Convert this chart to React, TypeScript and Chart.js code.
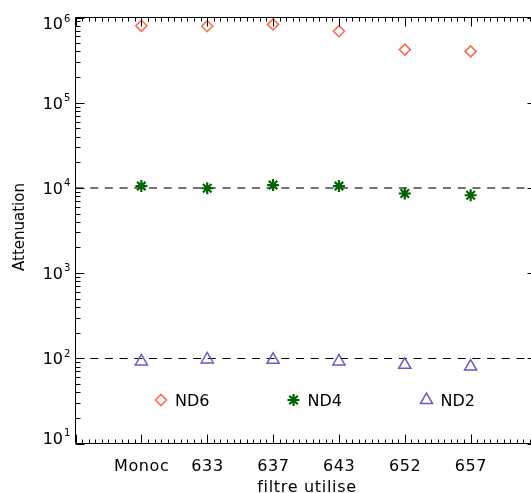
import React, { useEffect, useRef } from 'react';
import { Chart, registerables } from 'chart.js';
import { drawPoint } from 'chart.js/helpers';

Chart.register(...registerables);

// ---- data ----
const categories = ['Monoc', '633', '637', '643', '652', '657'];
const nd6 = [8.0e5, 7.9e5, 8.3e5, 6.9e5, 4.2e5, 4.0e5];
const nd4 = [1.05e4, 9.9e3, 1.08e4, 1.05e4, 8.6e3, 8.2e3];
const nd2 = [92, 97, 96, 92, 84, 80];
const seriesNames = ['ND6', 'ND4', 'ND2'];
const yTickExponents = [1, 2, 3, 4, 5, 6];
const referenceLevels = [1e4, 1e2];
const xTitle = 'filtre utilise';
const yTitle = 'Attenuation';

const FONT = '"DejaVu Sans", sans-serif';

const seriesStyles = [
  { pointStyle: 'rectRot', radius: 5.5, borderWidth: 1.6, color: '#FF6A4D' },
  { pointStyle: 'star', radius: 6, borderWidth: 2.2, color: '#006400' },
  { pointStyle: 'triangle', radius: 7, borderWidth: 1.5, color: '#6A5ACD' },
];

const axesPlugin = {
  id: 'idlAxes',
  beforeDatasetsDraw(chart: any) {
    const { ctx, chartArea: a, scales } = chart;
    const y = scales.y;
    ctx.save();
    referenceLevels.forEach((lvl, i) => {
      const py = y.getPixelForValue(lvl);
      ctx.beginPath();
      ctx.setLineDash([8, 6.7]);
      if (i === 0) {
        ctx.strokeStyle = 'rgba(0,0,0,0.55)';
        ctx.lineWidth = 2;
        const yy = Math.round(py);
        ctx.moveTo(a.left, yy);
        ctx.lineTo(a.right, yy);
      } else {
        ctx.strokeStyle = '#000';
        ctx.lineWidth = 1;
        const yy = Math.floor(py) + 0.5;
        ctx.moveTo(a.left, yy);
        ctx.lineTo(a.right, yy);
      }
      ctx.stroke();
    });
    ctx.restore();
  },
  afterDraw(chart: any) {
    const { ctx, chartArea: a, scales } = chart;
    const x = scales.x;
    const y = scales.y;
    ctx.save();
    ctx.setLineDash([]);
    ctx.strokeStyle = '#000';
    ctx.lineWidth = 1;
    // frame
    ctx.beginPath();
    ctx.rect(a.left, a.top, a.right - a.left, a.bottom - a.top);
    ctx.stroke();

    // x ticks (bottom & top, inward)
    ctx.beginPath();
    for (let i = 0; i <= 70; i++) {
      const v = i / 10;
      const px = Math.round(x.getPixelForValue(v)) + 0.5;
      const len = i % 10 === 0 ? 9 : 4;
      ctx.moveTo(px, a.bottom);
      ctx.lineTo(px, a.bottom - len);
      ctx.moveTo(px, a.top);
      ctx.lineTo(px, a.top + len);
    }
    // y ticks (left & right, inward)
    for (let k = 1; k <= 6; k++) {
      for (let m = 1; m <= 9; m++) {
        if (k === 6 && m > 1) break;
        const v = m * Math.pow(10, k);
        const py = Math.round(y.getPixelForValue(v)) + 0.5;
        const len = m === 1 ? 9 : 5;
        ctx.moveTo(a.left, py);
        ctx.lineTo(a.left + len, py);
        ctx.moveTo(a.right, py);
        ctx.lineTo(a.right - len, py);
      }
    }
    ctx.stroke();

    // y tick labels
    ctx.fillStyle = '#000';
    yTickExponents.forEach((e) => {
      const py = y.getPixelForValue(Math.pow(10, e));
      const c = Math.min(Math.max(py, a.top + 5.8), a.bottom - 5.8);
      ctx.font = `16px ${FONT}`;
      ctx.textAlign = 'right';
      ctx.textBaseline = 'alphabetic';
      ctx.fillText('10', 63, c + 5.8);
      ctx.font = `10px ${FONT}`;
      ctx.textAlign = 'left';
      ctx.fillText(String(e), 64, c - 5.3 + 3.6);
    });

    // x tick labels
    ctx.font = `16px ${FONT}`;
    (ctx as any).letterSpacing = '0.6px';
    ctx.textAlign = 'center';
    categories.forEach((c, i) => {
      ctx.fillText(c, x.getPixelForValue(i + 1) + 0.3, 470.7);
    });
    // x title
    (ctx as any).letterSpacing = '0.7px';
    ctx.fillText(xTitle, 307, 491.5);
    (ctx as any).letterSpacing = '0px';

    // y title
    ctx.save();
    ctx.translate(24, 227);
    ctx.rotate(-Math.PI / 2);
    ctx.font = `15px ${FONT}`;
    ctx.textAlign = 'center';
    ctx.fillText(yTitle, 0, 0);
    ctx.restore();

    // legend inside plot
    const legendY = 400;
    const legendX = [161, 293.5, 426.5];
    seriesNames.forEach((name, i) => {
      const s = seriesStyles[i];
      ctx.save();
      ctx.strokeStyle = s.color;
      ctx.fillStyle = 'rgba(0,0,0,0)';
      ctx.lineWidth = s.borderWidth;
      drawPoint(ctx, { pointStyle: s.pointStyle as any, radius: s.radius, rotation: 0, borderWidth: s.borderWidth }, legendX[i], legendY);
      ctx.restore();
      ctx.fillStyle = '#000';
      ctx.font = `16px ${FONT}`;
      ctx.textAlign = 'left';
      ctx.fillText(name, legendX[i] + 14, 406);
    });
    ctx.restore();
  },
};

export default function App() {
  const ref = useRef<HTMLCanvasElement | null>(null);
  useEffect(() => {
    if (!ref.current) return;
    const values = [nd6, nd4, nd2];
    const chart = new Chart(ref.current, {
      type: 'scatter',
      data: {
        datasets: seriesNames.map((name, i) => ({
          label: name,
          data: values[i].map((v, j) => ({ x: j + 1, y: v })),
          pointStyle: seriesStyles[i].pointStyle as any,
          pointRadius: seriesStyles[i].radius,
          pointBorderWidth: seriesStyles[i].borderWidth,
          borderColor: seriesStyles[i].color,
          backgroundColor: 'rgba(0,0,0,0)',
          showLine: false,
          clip: false as any,
        })),
      },
      options: {
        responsive: false,
        animation: false,
        devicePixelRatio: 1,
        events: [],
        layout: { padding: { left: 75.5, top: 17.5, right: 6, bottom: 49.5 } },
        plugins: { legend: { display: false }, tooltip: { enabled: false } },
        scales: {
          x: { type: 'linear', min: 0, max: 7, display: false },
          y: { type: 'logarithmic', min: 10, max: 1e6, display: false },
        },
      },
      plugins: [axesPlugin],
    });
    return () => chart.destroy();
  }, []);
  return (
    <div style={{ position: 'absolute', left: 0, top: 0, width: 531, height: 493, overflow: 'hidden', background: '#fff' }}>
      <canvas ref={ref} width={545} height={493} style={{ display: 'block' }} />
    </div>
  );
}
